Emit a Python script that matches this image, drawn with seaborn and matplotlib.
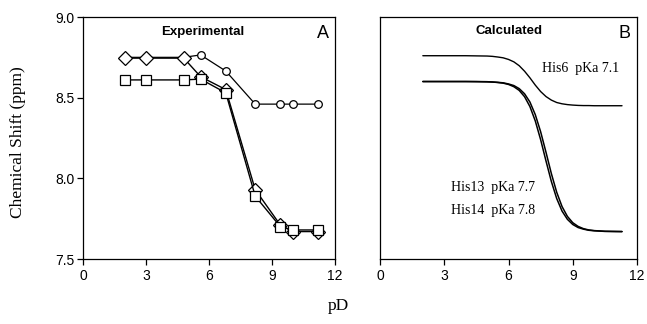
import numpy as np
import pandas as pd
import matplotlib
matplotlib.use("Agg")
import matplotlib.pyplot as plt
import seaborn as sns

sns.set_theme(style="white")
plt.rcParams['font.family'] = ['Liberation Sans', 'DejaVu Sans']

# ---- Panel A: experimental data ----
pD_exp = [2.0, 3.0, 4.8, 5.6, 6.8, 8.2, 9.4, 10.0, 11.2]
his6_exp = [8.75, 8.75, 8.75, 8.765, 8.665, 8.46, 8.46, 8.46, 8.46]
his13_exp = [8.745, 8.745, 8.745, 8.63, 8.55, 7.93, 7.71, 7.67, 7.67]
his14_exp = [8.61, 8.61, 8.61, 8.615, 8.53, 7.89, 7.70, 7.68, 7.68]

# ---- Panel B: calculated titration curves ----
pD_calc = [2, 3, 4, 4.5, 5, 5.25, 5.5, 5.75, 6, 6.25, 6.5, 6.75, 7, 7.25,
           7.5, 7.75, 8, 8.25, 8.5, 8.75, 9, 9.25, 9.5, 9.75, 10, 10.5, 11, 11.3]
his6_calc = [8.760, 8.760, 8.760, 8.759, 8.758, 8.756, 8.752, 8.747, 8.737,
             8.722, 8.698, 8.664, 8.623, 8.578, 8.538, 8.507, 8.485, 8.470,
             8.462, 8.457, 8.454, 8.452, 8.451, 8.451, 8.450, 8.450, 8.450, 8.450]
his13_calc = [8.600, 8.600, 8.600, 8.599, 8.598, 8.597, 8.594, 8.590, 8.582,
              8.568, 8.545, 8.506, 8.445, 8.356, 8.240, 8.108, 7.981, 7.875,
              7.797, 7.746, 7.714, 7.695, 7.685, 7.678, 7.675, 7.671, 7.670, 7.670]
his14_calc = [8.600, 8.600, 8.600, 8.600, 8.599, 8.597, 8.595, 8.592, 8.585,
              8.575, 8.556, 8.524, 8.473, 8.395, 8.289, 8.162, 8.030, 7.914,
              7.825, 7.764, 7.725, 7.702, 7.688, 7.680, 7.676, 7.672, 7.671, 7.670]

x_ticks = [0, 3, 6, 9, 12]
y_ticks = [7.5, 8.0, 8.5, 9.0]
y_ticklabels = ["7.5", "8.0", "8.5", "9.0"]

W, H = 647, 324
fig = plt.figure(figsize=(W / 100, H / 100), dpi=100)
axA = fig.add_axes([83 / W, 1 - 259 / H, 252 / W, 242 / H])
axB = fig.add_axes([380 / W, 1 - 259 / H, 257 / W, 242 / H])

serif = ['Liberation Serif', 'DejaVu Serif']

# Panel A
sns.lineplot(x=pD_exp, y=his6_exp, ax=axA, color="black", lw=0.9, sort=False,
             marker="o", markersize=5.5, mfc="white", mec="black", mew=0.9, zorder=2)
sns.lineplot(x=pD_exp, y=his13_exp, ax=axA, color="black", lw=1.0, sort=False,
             marker="D", markersize=7.5, mfc="white", mec="black", mew=0.9, zorder=3)
sns.lineplot(x=pD_exp, y=his14_exp, ax=axA, color="black", lw=1.0, sort=False,
             marker="s", markersize=7.5, mfc="white", mec="black", mew=0.9, zorder=4)

# Panel B
for yy, lw in [(his6_calc, 1.0), (his13_calc, 1.1), (his14_calc, 1.1)]:
    sns.lineplot(x=pD_calc, y=yy, ax=axB, color="black", lw=lw, sort=False)

for ax in (axA, axB):
    ax.set_xlim(0, 12)
    ax.set_ylim(7.5, 9.0)
    ax.set_xticks(x_ticks)
    ax.set_xticklabels([str(t) for t in x_ticks], fontsize=10)
    ax.set_facecolor("white")
    for s in ax.spines.values():
        s.set_visible(True)
        s.set_color("black")
        s.set_linewidth(0.9)
    ax.tick_params(axis="x", bottom=True, top=False, direction="out", length=4,
                   width=0.9, color="black", pad=3, labelsize=10, labelcolor="black")
    ax.set_xlabel("")
    ax.set_ylabel("")
    ax.grid(False)

axA.set_yticks(y_ticks)
axA.set_yticklabels(y_ticklabels, fontsize=10)
axA.tick_params(axis="y", left=True, right=False, direction="out", length=4,
                width=0.9, color="black", pad=2, labelsize=10, labelcolor="black")
axB.set_yticks([])

axA.text(5.7, 8.91, "Experimental", ha="center", va="center", fontsize=9.5,
         fontweight="bold", color="black")
axA.text(11.7, 8.9, "A", ha="right", va="center", fontsize=13, color="black")
axB.text(6.0, 8.915, "Calculated", ha="center", va="center", fontsize=9.5,
         fontweight="bold", color="black")
axB.text(11.7, 8.9, "B", ha="right", va="center", fontsize=13, color="black")

axB.text(7.55, 8.68, "His6  pKa 7.1", ha="left", va="center", fontsize=10,
         family=serif, color="black")
axB.text(3.3, 7.945, "His13  pKa 7.7", ha="left", va="center", fontsize=10,
         family=serif, color="black")
axB.text(3.3, 7.80, "His14  pKa 7.8", ha="left", va="center", fontsize=10,
         family=serif, color="black")

fig.text(18 / W, 1 - 142 / H, "Chemical Shift (ppm)", rotation=90, ha="center",
         va="center", fontsize=12.5, family=serif, color="black")
fig.text(338 / W, 1 - 306 / H, "pD", ha="center", va="center", fontsize=12.5,
         family=serif, color="black")

fig.savefig("out.png", dpi=100, facecolor="white")
